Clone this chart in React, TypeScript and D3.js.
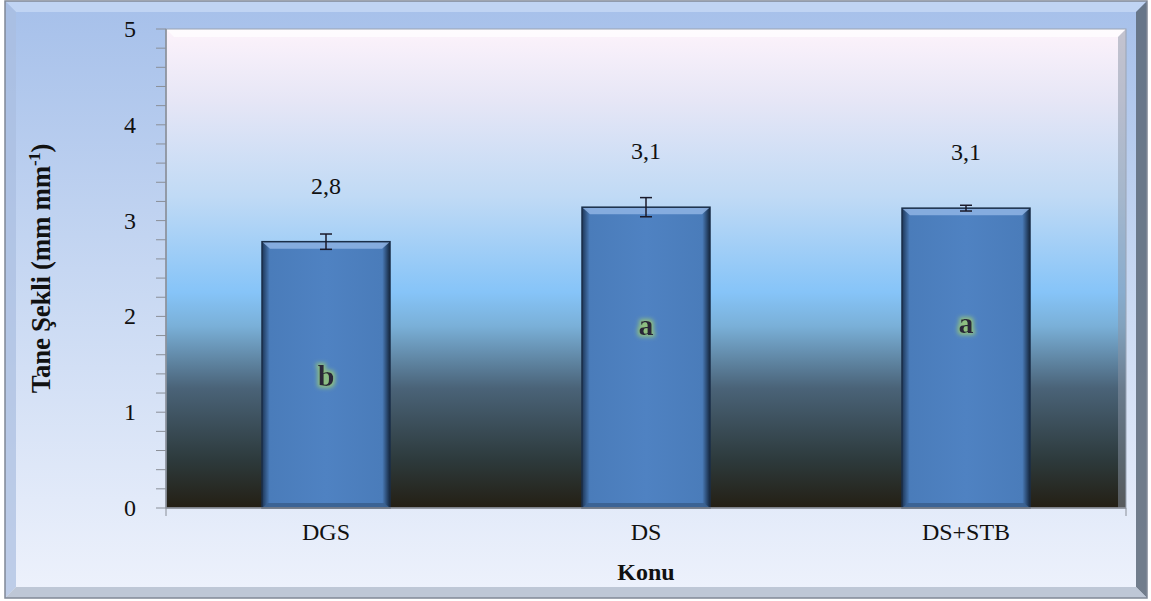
import React from "react";
import * as d3 from "d3";

const categories = ["DGS", "DS", "DS+STB"];
const values = [2.78, 3.14, 3.13];
const errors = [0.08, 0.1, 0.03];
const valueLabels = ["2,8", "3,1", "3,1"];
const letters = ["b", "a", "a"];
const letterValues = [1.37, 1.9, 1.92];
const yTicks = [0, 1, 2, 3, 4, 5];

const W = 1151;
const H = 601;
const M = { left: 166, right: 1126, top: 29, bottom: 508 };

export default function App() {
  const x = d3.scaleBand<string>().domain(categories).range([M.left, M.right]).paddingInner(0.6).paddingOuter(0.3);
  const y = d3.scaleLinear().domain([0, 5]).range([M.bottom, M.top]);
  const minor = d3.range(0, 5.001, 0.2);
  const bw = x.bandwidth();
  const serif = "Liberation Serif, Tinos, Times New Roman, DejaVu Serif, serif";
  const B = 11;

  return (
    <svg width={W} height={H} style={{ position: "absolute", left: 0, top: 0 }}>
      <defs>
        <linearGradient id="outerG" x1="0" y1="0" x2="0" y2="1">
          <stop offset="0" stopColor="#a6c0ea" />
          <stop offset="0.45" stopColor="#c6d7f2" />
          <stop offset="1" stopColor="#eef2fc" />
        </linearGradient>
        <linearGradient id="plotG" x1="0" y1="0" x2="0" y2="1">
          <stop offset="0" stopColor="#fdf3fb" />
          <stop offset="0.15" stopColor="#e6e6f6" />
          <stop offset="0.35" stopColor="#c0daf5" />
          <stop offset="0.55" stopColor="#86c4f8" />
          <stop offset="0.62" stopColor="#7ab0d8" />
          <stop offset="0.75" stopColor="#4a6378" />
          <stop offset="0.9" stopColor="#2d3a3c" />
          <stop offset="1" stopColor="#241f14" />
        </linearGradient>
        <linearGradient id="barG" x1="0" y1="0" x2="1" y2="0">
          <stop offset="0" stopColor="#1d3657" />
          <stop offset="0.06" stopColor="#4a7cba" />
          <stop offset="0.5" stopColor="#4f82c2" />
          <stop offset="0.94" stopColor="#4a7cba" />
          <stop offset="1" stopColor="#14263d" />
        </linearGradient>
        <filter id="glow" x="-50%" y="-50%" width="200%" height="200%">
          <feMorphology in="SourceAlpha" operator="dilate" radius="2" result="d" />
          <feGaussianBlur in="d" stdDeviation="2" result="b" />
          <feFlood floodColor="#8fc080" />
          <feComposite in2="b" operator="in" result="g" />
          <feMerge>
            <feMergeNode in="g" />
            <feMergeNode in="SourceGraphic" />
          </feMerge>
        </filter>
      </defs>

      {/* outer frame */}
      <rect x={5} y={1} width={1142} height={597} fill="url(#outerG)" />
      <polygon points={`5,1 1147,1 ${1147 - B},${1 + B} ${5 + B},${1 + B}`} fill="#c3d6f4" opacity={0.9} />
      <polygon points={`5,1 ${5 + B},${1 + B} ${5 + B},${598 - B} 5,598`} fill="#a9bedf" opacity={0.7} />
      <polygon points={`1147,1 1147,598 ${1147 - B},${598 - B} ${1147 - B},${1 + B}`} fill="#5c6878" opacity={0.85} />
      <polygon points={`5,598 1147,598 ${1147 - B},${598 - B} ${5 + B},${598 - B}`} fill="#b8c2d2" opacity={0.9} />
      <rect x={5} y={1} width={1142} height={597} fill="none" stroke="#808896" strokeWidth={1.5} />

      {/* plot area */}
      <rect x={M.left} y={M.top} width={M.right - M.left} height={M.bottom - M.top} fill="url(#plotG)" />
      <polygon points={`${M.left},${M.top} ${M.right},${M.top} ${M.right - 8},${M.top + 8} ${M.left + 8},${M.top + 8}`} fill="#ffffff" opacity={0.7} />
      <polygon points={`${M.right},${M.top} ${M.right},${M.bottom} ${M.right - 8},${M.bottom} ${M.right - 8},${M.top + 8}`} fill="#8a94a4" opacity={0.5} />
      <rect x={M.left} y={M.top} width={M.right - M.left} height={M.bottom - M.top} fill="none" stroke="#9aa4b4" strokeWidth={1} />

      {/* bars */}
      {categories.map((c, i) => {
        const bx = x(c)!;
        const top = y(values[i]);
        const bh = M.bottom - top;
        return (
          <g key={c}>
            <rect x={bx} y={top} width={bw} height={bh} fill="url(#barG)" />
            <polygon points={`${bx},${top} ${bx + bw},${top} ${bx + bw - 8},${top + 7} ${bx + 8},${top + 7}`} fill="#8fb4e4" opacity={0.85} />
            <polygon points={`${bx},${M.bottom} ${bx + bw},${M.bottom} ${bx + bw - 6},${M.bottom - 5} ${bx + 6},${M.bottom - 5}`} fill="#3a6090" opacity={0.9} />
            <rect x={bx} y={top} width={bw} height={bh} fill="none" stroke="#1a2e48" strokeWidth={1.5} />
          </g>
        );
      })}

      {/* error bars */}
      {categories.map((c, i) => {
        const cx = x(c)! + bw / 2;
        const y1 = y(values[i] + errors[i]);
        const y2 = y(values[i] - errors[i]);
        return (
          <g key={c} stroke="#1a1a2a" strokeWidth={1.5}>
            <line x1={cx} x2={cx} y1={y1} y2={y2} />
            <line x1={cx - 6} x2={cx + 6} y1={y1} y2={y1} />
            <line x1={cx - 6} x2={cx + 6} y1={y2} y2={y2} />
          </g>
        );
      })}

      {/* value labels */}
      {categories.map((c, i) => (
        <text key={c} x={x(c)! + bw / 2} y={y(values[i]) - 48} textAnchor="middle" fontFamily={serif} fontSize={24} fill="#111">
          {valueLabels[i]}
        </text>
      ))}

      {/* letters */}
      {categories.map((c, i) => (
        <text key={c} x={x(c)! + bw / 2} y={y(letterValues[i]) + 9} textAnchor="middle" fontFamily={serif} fontWeight="bold" fontSize={30} fill="#2a2838" filter="url(#glow)">
          {letters[i]}
        </text>
      ))}

      {/* y axis */}
      <line x1={M.left} x2={M.left} y1={M.top} y2={M.bottom} stroke="#8a8f98" strokeWidth={1.5} />
      {minor.map((t, i) => (
        <line key={i} x1={M.left - 10} x2={M.left} y1={y(t)} y2={y(t)} stroke="#8a8f98" strokeWidth={1} />
      ))}
      {yTicks.map((t) => (
        <text key={t} x={136} y={y(t) + 8} textAnchor="end" fontFamily={serif} fontSize={24} fill="#111">
          {t}
        </text>
      ))}

      {/* x axis */}
      <line x1={M.left} x2={M.right} y1={M.bottom} y2={M.bottom} stroke="#8a8f98" strokeWidth={1.5} />
      {[M.left, M.right].map((tx, i) => (
        <line key={i} x1={tx} x2={tx} y1={M.bottom} y2={M.bottom + 8} stroke="#8a8f98" strokeWidth={1} />
      ))}
      {categories.map((c) => (
        <text key={c} x={x(c)! + bw / 2} y={540} textAnchor="middle" fontFamily={serif} fontSize={24} fill="#111">
          {c}
        </text>
      ))}
      <text x={(M.left + M.right) / 2} y={580} textAnchor="middle" fontFamily={serif} fontWeight="bold" fontSize={24} fill="#111">
        Konu
      </text>

      {/* y title */}
      <text transform={`translate(50, ${(M.top + M.bottom) / 2}) rotate(-90)`} textAnchor="middle" fontFamily={serif} fontWeight="bold" fontSize={27} fill="#111" style={{ letterSpacing: "-0.3px" }}>
        Tane Şekli (mm mm
        <tspan dy={-10} fontSize={17}>-1</tspan>
        <tspan dy={10}>)</tspan>
      </text>
    </svg>
  );
}
